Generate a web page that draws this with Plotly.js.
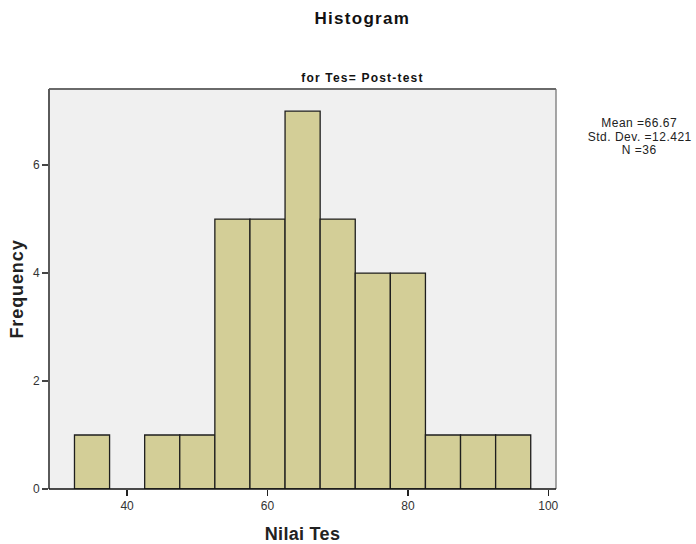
<!DOCTYPE html>
<html>
<head>
<meta charset="utf-8">
<script src="https://cdn.plot.ly/plotly-3.0.1.min.js"></script>
<style>
html,body{margin:0;padding:0;background:#fff;}
#chart{width:696px;height:544px;}
.gtitle{letter-spacing:1.3px;}
.ytitle{letter-spacing:0.9px;}
.xtitle{letter-spacing:0.3px;}
</style>
</head>
<body>
<div id="chart"></div>
<script>
const binCenters = [35, 40, 45, 50, 55, 60, 65, 70, 75, 80, 85, 90, 95];
const frequencies = [1, 0, 1, 1, 5, 5, 7, 5, 4, 4, 1, 1, 1];
const yTicks = [0, 2, 4, 6];
const xTicks = [40, 60, 80, 100];
const statsLines = ["Mean =66.67", "Std. Dev. =12.421", "N =36"];

const trace = {
  type: 'bar',
  x: binCenters,
  y: frequencies.map(v => v === 0 ? null : v),
  width: 5,
  marker: {color: '#d3ce97', line: {color: '#1e1e1e', width: 1.3}},
  hoverinfo: 'x+y'
};

const statsY = [0.915, 0.881, 0.848];
const statsAnn = statsLines.map((t, i) => ({
  text: t, xref: 'paper', yref: 'paper', x: 1.1655, y: statsY[i],
  xanchor: 'center', yanchor: 'middle', showarrow: false,
  font: {size: 12, color: '#222'}
}));

const layout = {
  width: 696, height: 544,
  margin: {l: 48.5, r: 140, t: 89, b: 55},
  paper_bgcolor: '#ffffff',
  plot_bgcolor: '#f0f0f0',
  showlegend: false,
  font: {family: 'Liberation Sans, Arial, sans-serif', color: '#222'},
  title: {text: '<b>Histogram</b>', xref: 'paper', x: 0.618, xanchor: 'center', y: 0.967, yanchor: 'middle',
          font: {size: 17, color: '#111'}},
  xaxis: {
    range: [28.87, 101.1], tickmode: 'array', tickvals: xTicks,
    ticks: 'outside', ticklen: 6, tickwidth: 1.3, tickcolor: '#222',
    showgrid: false, zeroline: false, showline: false,
    tickfont: {size: 12, color: '#333'},
    title: {text: '<b>Nilai Tes</b>', font: {size: 18, color: '#222'}, standoff: 15}
  },
  yaxis: {
    range: [0, 7.41], tickmode: 'array', tickvals: yTicks,
    ticks: 'outside', ticklen: 6, tickwidth: 1.3, tickcolor: '#444',
    showgrid: false, zeroline: false, showline: false,
    tickfont: {size: 12, color: '#333'},
    title: {text: '<b>Frequency</b>', font: {size: 18, color: '#222'}, standoff: 4}
  },
  shapes: [
    {type: 'line', xref: 'paper', yref: 'paper', x0: 1, x1: 1, y0: 0, y1: 1,
     line: {color: '#888', width: 1.5}, layer: 'above'},
    {type: 'line', xref: 'paper', yref: 'paper', x0: 0, x1: 1, y0: 1, y1: 1,
     line: {color: '#6a6a6a', width: 2.2}, layer: 'above'},
    {type: 'line', xref: 'paper', yref: 'paper', x0: 0, x1: 0, y0: 0, y1: 1,
     line: {color: '#5a5a5a', width: 2}, layer: 'above'},
    {type: 'line', xref: 'paper', yref: 'paper', x0: 0, x1: 1, y0: 0, y1: 0,
     line: {color: '#111', width: 1.5}, layer: 'above'}
  ],
  annotations: [
    {text: '<b>for Tes= Post-test</b>', xref: 'paper', yref: 'paper', x: 0.619, y: 1,
     xanchor: 'center', yanchor: 'bottom', yshift: 2, showarrow: false,
     font: {size: 12, color: '#111'}}
  ].concat(statsAnn)
};

Plotly.newPlot('chart', [trace], layout, {displayModeBar: false, staticPlot: true}).then(() => {
  const anns = document.querySelectorAll('.annotation-text');
  anns.forEach((el, i) => { el.style.letterSpacing = i === 0 ? '1.2px' : '0.5px'; });
});
</script>
</body>
</html>
